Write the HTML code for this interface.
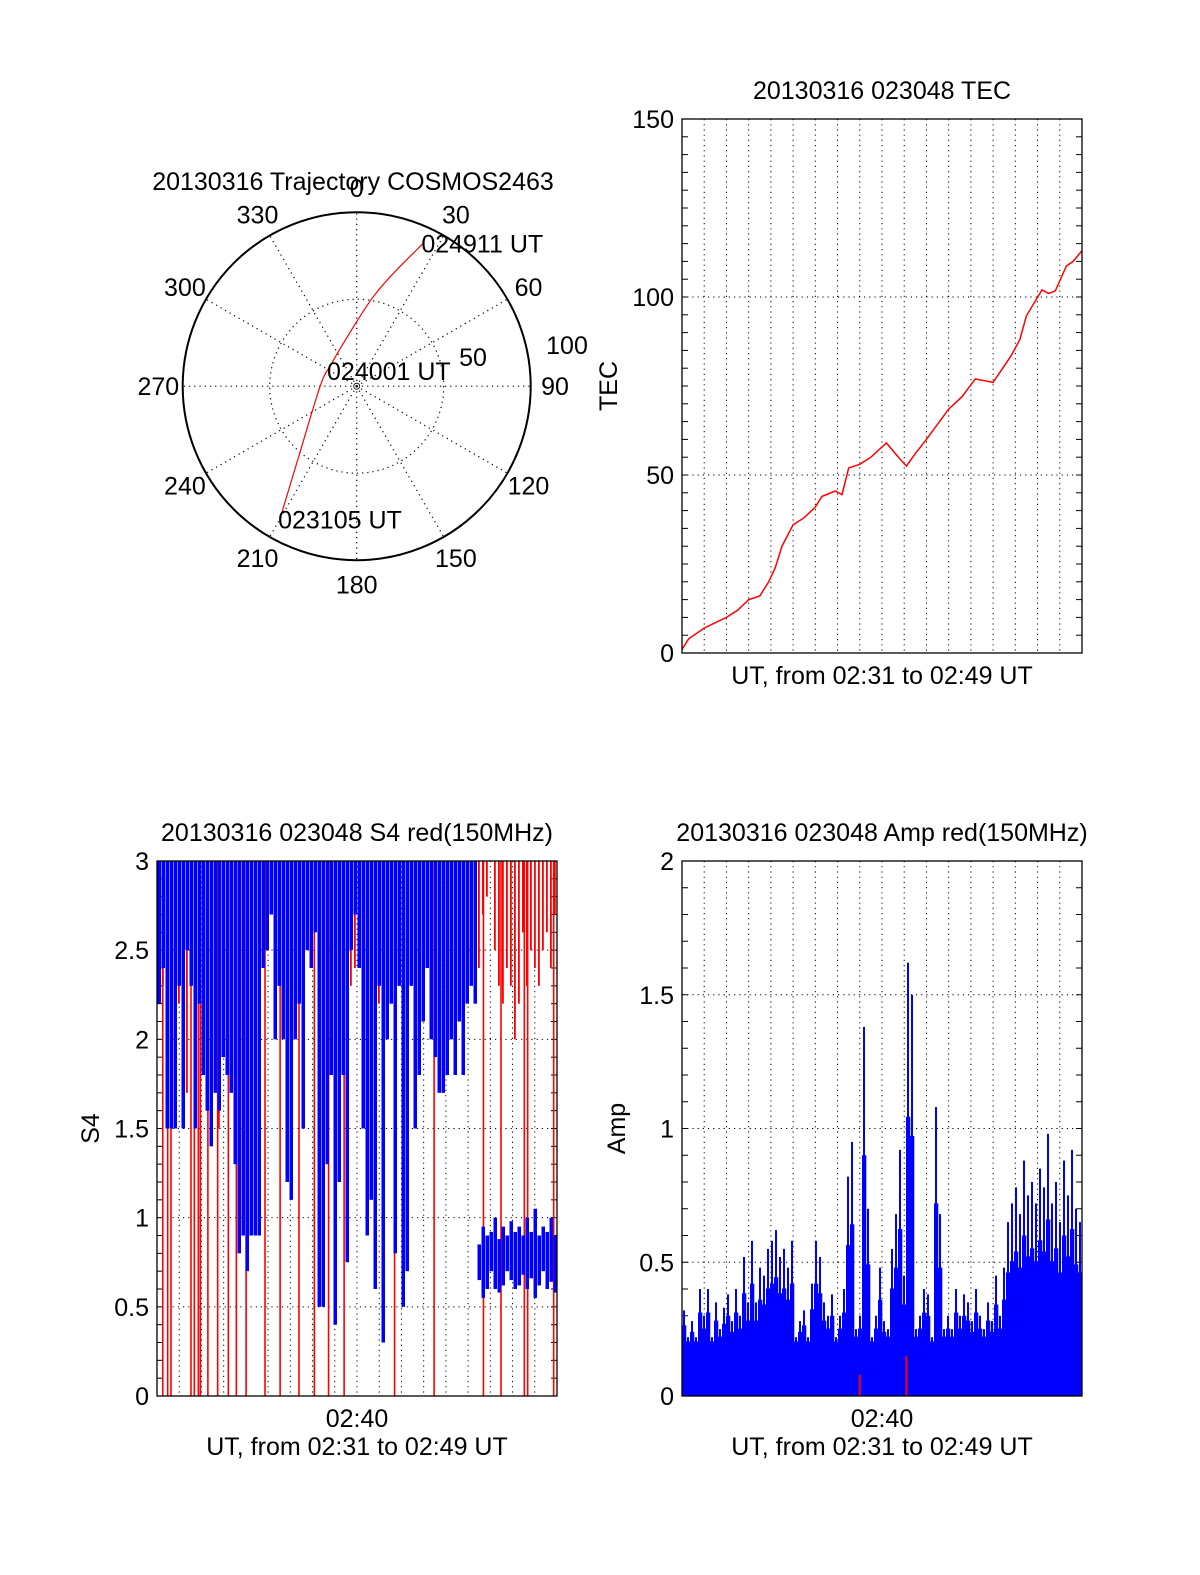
<!DOCTYPE html>
<html><head><meta charset="utf-8"><style>
html,body{margin:0;padding:0;background:#fff;}
svg{display:block;font-family:"Liberation Sans",sans-serif;}
</style></head><body>
<svg id="fig" width="1200" height="1575" viewBox="0 0 1200 1575" xmlns="http://www.w3.org/2000/svg">
<rect width="1200" height="1575" fill="#fff"/>
</svg>
<script>
// ---------- DATA ----------
const polarAz = [210.1, 217.9, 269.2, 312.5, 0, 10.5, 18.0, 25.0];
const polarZen = [87.8, 56.1, 21.1, 19.5, 37.1, 52.3, 68.2, 90.6];
const azLabels = ["0","30","60","90","120","150","180","210","240","270","300","330"];

const tecTimes = [0,0.3,1,1.5,2,2.5,3,3.5,3.9,4.2,4.5,5,5.5,6,6.3,6.9,7.2,7.5,8,8.5,9.2,9.6,10.1,10.5,11,12,12.6,13.2,14,14.8,15.2,15.5,16.2,16.5,16.8,17.3,17.6,18];
const tecVals  = [1,4,7,8.5,10,12,15,16,20,24,30,36,38,41,44,45.5,44.5,52,53,55,59,56,52.5,56,60,68.5,72,77,76,83.4,88,94.7,102,101,101.7,108.7,110,113];
const tecTicks = ["0","50","100","150"];

const s4Ticks = ["0","0.5","1","1.5","2","2.5","3"];
const blueMin = [2.2,2.4,1.5,1.5,1.5,2.3,1.5,2.5,2.3,1.5,
 2.2,1.8,1.6,1.4,1.7,1.6,1.9,1.8,1.7,1.3,
 0.8,0.9,0.7,0.9,0.9,0.9,2.4,2.5,2.7,2.0,
 2.3,2.0,1.2,1.1,2.0,2.2,1.5,2.5,2.4,2.6,
 0.5,0.5,1.3,1.8,0.4,1.2,1.8,0.75,2.5,2.7,
 2.4,1.5,0.9,1.1,0.6,2.3,0.3,2.0,2.2,0.8,
 2.3,0.5,0.7,2.3,1.5,1.8,2.1,2.4,2.0,1.9,
 1.7,1.7,1.8,2.0,1.8,2.1,1.8,2.2,2.3,2.2,
 0.65,0.55,0.6,0.7,0.6,0.58,0.62,0.7,0.65,0.6,
 0.62,0.68,0.6,0.66,0.55,0.62,0.7,0.6,0.64,0.58];
const blueTop = [3,3,3,3,3,3,3,3,3,3, 3,3,3,3,3,3,3,3,3,3,
 3,3,3,3,3,3,3,3,3,3, 3,3,3,3,3,3,3,3,3,3,
 3,3,3,3,3,3,3,3,3,3, 3,3,3,3,3,3,3,3,3,3,
 3,3,3,3,3,3,3,3,3,3, 3,3,3,3,3,3,3,3,3,3,
 0.85,0.95,0.9,0.92,1.0,0.88,0.95,0.9,0.98,0.92,
 0.95,0.9,1.0,0.92,1.05,0.9,0.95,0.92,1.0,0.9];
const redMin = [2.6,2.3,2.0,1.8,2.5,2.2,2.6,1.7,2.3,2.5,
 2.4,1.9,2.6,2.7,2.4,1.5,2.7,2.3,2.5,2.0,
 2.2,2.7,2.3,2.6,2.7,3,2.8,2.9,3,2.8,
 2.6,2.5,2.7,2.8,2.6,2.9,2.4,2.8,3,2.9,
 2.7,2.6,2.5,2.9,2.8,2.8,2.9,2.6,2.3,2.4,
 2.6,2.2,2.1,2.4,2.5,2.2,2.0,2.5,2.6,2.4,
 2.3,2.5,2.4,2.6,2.1,2.8,2.9,2.7,2.6,2.5,
 2.8,2.7,2.6,2.8,2.9,2.6,2.7,2.5,2.6,2.3,
 2.4,2.7,2.8,3,2.5,2.3,2.2,2.4,2.3,2.0,
 2.2,2.6,2.3,2.5,2.4,2.3,2.5,2.6,2.4,2.7];
const redFullTimes = [0.26,0.48,0.63,1.53,1.68,1.86,1.95,2.29,2.73,3.21,3.57,4.01,4.86,5.54,6.39,7.08,7.72,8.42,10.69,12.47,14.69,15.48,16.53,16.68,17.85];

const ampTicks = ["0","0.5","1","1.5","2"];
const ampVals = [0.32,0.22,0.28,0.22,0.40,0.30,0.40,0.22,0.35,0.25,
 0.33,0.38,0.28,0.40,0.30,0.52,0.35,0.58,0.35,0.48,
 0.45,0.55,0.58,0.62,0.52,0.55,0.48,0.58,0.22,0.28,
 0.32,0.22,0.42,0.58,0.52,0.35,0.30,0.38,0.22,0.30,
 0.40,0.82,0.95,0.25,0.30,1.38,0.70,0.22,0.30,0.48,
 0.28,0.25,0.55,0.68,0.92,0.45,1.62,1.50,0.25,0.30,
 0.40,0.38,0.22,1.08,0.68,0.25,0.30,0.25,0.40,0.30,
 0.38,0.35,0.28,0.40,0.30,0.25,0.35,0.28,0.45,0.30,
 0.48,0.65,0.72,0.78,0.68,0.88,0.75,0.80,0.72,0.85,
 0.78,0.98,0.72,0.80,0.65,0.88,0.75,0.92,0.70,0.65];
const ampRedTimes = [8.0, 10.1];
const ampRedVals = [0.08, 0.15];

// ---------- HELPERS ----------
const NS = "http://www.w3.org/2000/svg";
const svg = document.getElementById('fig');
const FS = 25;
function mk(tag, attrs, parent){
  const e = document.createElementNS(NS, tag);
  for (const k in attrs) e.setAttribute(k, attrs[k]);
  (parent||svg).appendChild(e);
  return e;
}
function txt(s, x, y, anchor, size, parent){
  const t = mk('text', {x:x, y:y, 'text-anchor':anchor||'middle', 'font-size':size||FS, fill:'#000'}, parent);
  t.textContent = s;
  return t;
}
const DOT = '1.2 4';

// ---------- TIME-PANEL FRAME ----------
function panel(name, L, R, T, B, ymax, ticks, minorStep, gridStep, title, ytitle, ytx, showXTick){
  const g = mk('g', {});
  
  
  const xs = m => L + m/18*(R-L);
  const ys = v => B - v/ymax*(B-T);
  for (let m=1; m<18; m++){
    const l = mk('line',{x1:xs(m),x2:xs(m),y1:T,y2:B,stroke:'#000','stroke-width':1,'stroke-dasharray':DOT},g);
    
    
  }
  for (let v=gridStep; v<ymax-1e-9; v+=gridStep){
    const l = mk('line',{x1:L,x2:R,y1:ys(v),y2:ys(v),stroke:'#000','stroke-width':1,'stroke-dasharray':DOT},g);
    
    
  }
  const n = Math.round(ymax/minorStep);
  for (let i=1;i<n;i++){
    const y = ys(i*minorStep);
    mk('line',{x1:L,x2:L+6,y1:y,y2:y,stroke:'#000','stroke-width':1},g);
    mk('line',{x1:R-6,x2:R,y1:y,y2:y,stroke:'#000','stroke-width':1},g);
  }
  ticks.forEach((s,i)=>{
    const t = txt(s, L-8, ys(i*ymax/(ticks.length-1))+9, 'end', FS, g);
    
    
  });
  const tt = txt(title, (L+R)/2, T-20, 'middle', FS, g);
  
  
  const yt = txt(ytitle, 0, 0, 'middle', FS, g);
  yt.setAttribute('transform',`translate(${ytx},${(T+B)/2}) rotate(-90)`);
  
  
  if (showXTick){
    const xt = txt('02:40', xs(9), B+31, 'middle', FS, g);
    
    
    const xl = txt('UT, from 02:31 to 02:49 UT', (L+R)/2, B+59, 'middle', FS, g);
    
    
  } else {
    const xl = txt('UT, from 02:31 to 02:49 UT', (L+R)/2, B+31, 'middle', FS, g);
    
    
  }
  return {g, xs, ys, L, R, T, B};
}
function frame(p, name){
  const r = mk('rect',{x:p.L,y:p.T,width:p.R-p.L,height:p.B-p.T,fill:'none',stroke:'#000','stroke-width':1.3},p.g);
  
  
}

// ---------- TEC ----------
const tec = panel('tec-panel', 682, 1082, 119, 653, 150, tecTicks, 5, 50, '20130316 023048 TEC', 'TEC', 617, false);
{
  const pts = tecTimes.map((t,i)=>tec.xs(t).toFixed(1)+','+tec.ys(tecVals[i]).toFixed(1)).join(' ');
  const pl = mk('polyline',{points:pts,fill:'none',stroke:'#f00','stroke-width':1.5},tec.g);
  
  
  frame(tec,'tec-plot-frame');
}

// ---------- S4 ----------
const s4 = panel('s4-panel', 157, 557, 861, 1396, 3, s4Ticks, 0.1, 0.5, '20130316 023048 S4 red(150MHz)', 'S4', 99, true);
{
  const bw = 18/redMin.length;
  const w = s4.xs(bw)-s4.xs(0);
  redMin.forEach((v,i)=>{
    if (v>=3) return;
    const x0 = s4.xs(i*bw);
    const r = mk('rect',{x:x0+1,y:s4.ys(3),width:1.8,height:s4.ys(v)-s4.ys(3),fill:'#f00'},s4.g);
    
    
  });
  redFullTimes.forEach(t=>{
    const l = mk('line',{x1:s4.xs(t),x2:s4.xs(t),y1:s4.ys(3),y2:s4.ys(0),stroke:'#f00','stroke-width':1.6},s4.g);
    
    
  });
  blueMin.forEach((v,i)=>{
    const x0 = s4.xs(i*bw);
    const top = blueTop[i];
    const r = mk('rect',{x:x0+0.5,y:s4.ys(top),width:w-0.5,height:s4.ys(v)-s4.ys(top),fill:'#00f'},s4.g);
    
    
  });
  frame(s4,'s4-plot-frame');
}

// ---------- AMP ----------
const amp = panel('amp-panel', 682, 1082, 861, 1396, 2, ampTicks, 0.1, 0.5, '20130316 023048 Amp red(150MHz)', 'Amp', 625, true);
{
  const bw = 18/ampVals.length;
  const w = amp.xs(bw)-amp.xs(0);
  ampVals.forEach((v,i)=>{
    const x0 = amp.xs(i*bw);
    const base = Math.min(v, 0.18 + (v-0.18)*0.6);
    const r = mk('rect',{x:x0,y:amp.ys(base),width:w+0.3,height:amp.ys(0)-amp.ys(base),fill:'#00f'},amp.g);
    
    
    const l = mk('rect',{x:x0+1,y:amp.ys(v),width:Math.max(1.5,w*0.5),height:amp.ys(base)-amp.ys(v)+1,fill:'#00f'},amp.g);
    
    
  });
  ampRedTimes.forEach((t,i)=>{
    const r = mk('rect',{x:amp.xs(t)-1,y:amp.ys(ampRedVals[i]),width:2,height:amp.ys(0)-amp.ys(ampRedVals[i]),fill:'#f00'},amp.g);
    
    
  });
  frame(amp,'amp-plot-frame');
}

// ---------- POLAR ----------
{
  const cx = 356.7, cy = 386.2, R = 174;
  const g = mk('g',{});
  
  
  const pxy = (az, z) => [cx + Math.sin(az*Math.PI/180)*z/100*R, cy - Math.cos(az*Math.PI/180)*z/100*R];
  for (let a=0; a<360; a+=30){
    const [x,y] = pxy(a,100);
    const l = mk('line',{x1:cx,y1:cy,x2:x,y2:y,stroke:'#000','stroke-width':1.2,'stroke-dasharray':DOT},g);
    
    
  }
  const ic = mk('circle',{cx:cx,cy:cy,r:R*0.5,fill:'none',stroke:'#000','stroke-width':1.2,'stroke-dasharray':DOT},g);
  
  
  const oc = mk('circle',{cx:cx,cy:cy,r:R,fill:'none',stroke:'#000','stroke-width':2},g);
  
  
  mk('circle',{cx:cx,cy:cy,r:3,fill:'none',stroke:'#000','stroke-width':0.8},g);
  azLabels.forEach((s,i)=>{
    const [x,y] = pxy(i*30, 114);
    const t = txt(s, x, y+9, 'middle', FS, g);
    
    
  });
  const l100 = txt('100', 567, 354, 'middle', FS, g);
  
  
  const l50 = txt('50', 473, 366, 'middle', FS, g);
  
  
  const P = polarAz.map((a,i)=>pxy(a,polarZen[i]));
  let d = 'M'+P[0][0].toFixed(1)+','+P[0][1].toFixed(1);
  for (let i=0;i<P.length-1;i++){
    const p0 = P[Math.max(0,i-1)], p1 = P[i], p2 = P[i+1], p3 = P[Math.min(P.length-1,i+2)];
    const c1 = [p1[0]+(p2[0]-p0[0])/6, p1[1]+(p2[1]-p0[1])/6];
    const c2 = [p2[0]-(p3[0]-p1[0])/6, p2[1]-(p3[1]-p1[1])/6];
    d += ' C'+c1.map(v=>v.toFixed(1)).join(',')+' '+c2.map(v=>v.toFixed(1)).join(',')+' '+p2.map(v=>v.toFixed(1)).join(',');
  }
  const tr = mk('path',{d:d,fill:'none',stroke:'#f00','stroke-width':1.2},g);
  
  
  const ex = P[P.length-1][0], ey = P[P.length-1][1], sx = P[0][0], sy = P[0][1];
  const te = txt('024911 UT', ex-2, ey+9, 'start', FS, g);
  
  
  const tm = txt('024001 UT', 327, 380, 'start', FS, g);
  
  
  const ts = txt('023105 UT', sx-2, sy+10, 'start', FS, g);
  
  
  const pt = txt('20130316 Trajectory COSMOS2463', 353, 190, 'middle', FS, g);
  
  
}
</script>
</body></html>
